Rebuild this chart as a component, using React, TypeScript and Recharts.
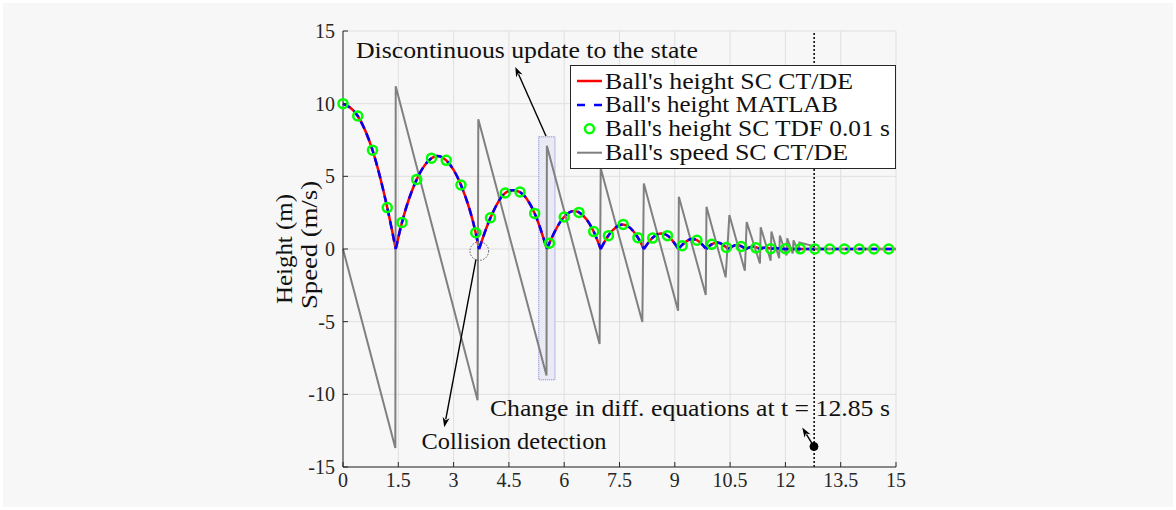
import React from 'react'
import {
    LineChart,
    Line,
    XAxis,
    YAxis,
    CartesianGrid,
    Legend,
    ReferenceLine,
    ReferenceDot,
    ReferenceArea
} from 'recharts'

const xTicks = [0, 1.5, 3, 4.5, 6, 7.5, 9, 10.5, 12, 13.5, 15]
const yTicks = [-15, -10, -5, 0, 5, 10, 15]

// Ball's height (SC CT/DE and MATLAB overlap). A null value closes one arc, the next arc starts at the bounce.
const heightTime = [
    0, 0.4, 0.8, 1.2, 1.43, 1.43,
    1.43, 1.6, 2.0, 2.4, 2.56, 2.8, 3.2, 3.6, 3.69, 3.69,
    3.69, 4.0, 4.4, 4.61, 4.8, 5.2, 5.53, 5.53,
    5.53, 5.6, 6.0, 6.26, 6.4, 6.8, 6.99, 6.99,
    6.99, 7.2, 7.58, 8.0, 8.16, 8.16,
    8.16, 8.4, 8.63, 8.8, 9.1, 9.1,
    9.1, 9.2, 9.47, 9.6, 9.85, 9.85,
    9.85, 10.0, 10.15, 10.45, 10.45,
    10.45, 10.69, 10.93, 10.93,
    10.93, 11.12, 11.31, 11.31,
    11.31, 11.47, 11.62, 11.62,
    11.62, 11.74, 11.86, 11.86,
    11.86, 15
]
const heightValue = [
    10, 9.15, 6.8, 2.85, 0, null,
    0, 1.83, 4.79, 6.25, 6.4, 6.1, 4.4, 1.1, 0, null,
    0, 2.15, 3.85, 4.05, 3.92, 2.45, 0, null,
    0, 0.42, 2.22, 2.62, 2.52, 1.2, 0, null,
    0, 0.93, 1.69, 0.78, 0, null,
    0, 0.78, 1.07, 0.93, 0, null,
    0, 0.28, 0.69, 0.61, 0, null,
    0, 0.32, 0.44, 0, null,
    0, 0.28, 0, null,
    0, 0.18, 0, null,
    0, 0.11, 0, null,
    0, 0.07, 0, null,
    0, 0
]

// Ball's height sampled by SC TDF (0.01 s), markers every 0.4 s
const tdfTime = [
    0, 0.4, 0.8, 1.2, 1.6, 2.0, 2.4, 2.8, 3.2, 3.6, 4.0, 4.4, 4.8, 5.2, 5.6, 6.0, 6.4, 6.8, 7.2,
    7.6, 8.0, 8.4, 8.8, 9.2, 9.6, 10.0, 10.4, 10.8, 11.2, 11.6, 12.0, 12.4, 12.8, 13.2, 13.6, 14.0, 14.4, 14.8
]
const tdfHeight = [
    10, 9.15, 6.8, 2.85, 1.83, 4.79, 6.25, 6.1, 4.4, 1.12, 2.15, 3.85, 3.92, 2.45, 0.4, 2.2, 2.52, 1.2, 0.92,
    1.69, 0.78, 0.75, 0.92, 0.22, 0.6, 0.32, 0.1, 0.17, 0.08, 0.02, 0.02, 0.01, 0, 0, 0, 0, 0, 0
]

// Ball's speed SC CT/DE (vertices of the saw-tooth)
const speedTime = [
    0, 1.42, 1.43, 3.65, 3.67, 5.52, 5.53, 6.96, 6.99, 8.12, 8.16, 9.09, 9.11, 9.84, 9.86,
    10.38, 10.48, 10.9, 10.95, 11.31, 11.33, 11.6, 11.62, 11.83, 11.85, 12.03, 12.05, 12.2, 12.22,
    12.36, 12.38, 12.76, 12.8, 15
]
const speedValue = [
    0, -13.7, 11.2, -10.4, 8.93, -8.7, 7.1, -6.53, 5.55, -5.02, 4.51, -4.24, 3.6, -3.16, 2.91,
    -1.95, 2.34, -1.5, 1.85, -1.0, 1.5, -0.8, 1.2, -0.64, 0.92, -0.45, 0.73, -0.3, 0.6,
    -0.25, 0.45, 0.2, 0, 0
]

const heightData = heightTime.map((t, i) => ({ t, h: heightValue[i] }))
const tdfData = tdfTime.map((t, i) => ({ t, h: tdfHeight[i] }))
const speedData = speedTime.map((t, i) => ({ t, v: speedValue[i] }))

const legendItems = [
    { name: "Ball's height SC CT/DE", kind: 'solid', color: '#ff0000', width: 248 },
    { name: "Ball's height MATLAB", kind: 'dashed', color: '#0000ff', width: 233 },
    { name: "Ball's height SC TDF 0.01 s", kind: 'circle', color: '#00ff00', width: 285 },
    { name: "Ball's speed SC CT/DE", kind: 'solid', color: '#808080', width: 243 }
]

const FONT = '"Liberation Serif", "DejaVu Serif", serif'
const AXIS_COLOR = '#262626'

const ArrowShape = (props: any) => {
    const { x1, y1, x2, y2 } = props
    const dx = x2 - x1
    const dy = y2 - y1
    const len = Math.hypot(dx, dy) || 1
    const ux = dx / len
    const uy = dy / len
    const head = 10
    const half = 3.5
    const bx = x2 - ux * head
    const by = y2 - uy * head
    return (
        <g>
            <line x1={x1} y1={y1} x2={bx + ux * 2} y2={by + uy * 2} stroke="#000" strokeWidth={1.4} />
            <polygon
                points={`${x2},${y2} ${bx - uy * half},${by + ux * half} ${bx + ux * 3},${by + uy * 3} ${bx + uy * half},${by - ux * half}`}
                fill="#000"
            />
        </g>
    )
}

const makeNote = (text: string, width: number) => (props: any) => (
    <text
        x={props.cx}
        y={props.cy}
        textAnchor="middle"
        fontFamily={FONT}
        fontSize={24}
        fill="#111"
        textLength={width}
        lengthAdjust="spacingAndGlyphs"
    >
        {text}
    </text>
)

const renderYLabel = (props: any) => {
    const vb = props?.viewBox ?? { x: 303, y: 31, width: 40, height: 436 }
    const cy = vb.y + vb.height / 2
    const xa = vb.x - 11
    const xb = vb.x + 14
    return (
        <g>
            <text x={xa} y={cy} transform={`rotate(-90 ${xa} ${cy})`} textAnchor="middle"
                fontFamily={FONT} fontSize={24} fill="#111"
                textLength={110} lengthAdjust="spacingAndGlyphs">Height (m)</text>
            <text x={xb} y={cy - 4} transform={`rotate(-90 ${xb} ${cy - 4})`} textAnchor="middle"
                fontFamily={FONT} fontSize={24} fill="#111"
                textLength={128} lengthAdjust="spacingAndGlyphs">Speed (m/s)</text>
        </g>
    )
}

const renderLegend = () => (
    <svg width={326} height={104} style={{ display: 'block' }}>
        <rect x={0.5} y={0.5} width={325} height={103} fill="#ffffff" stroke={AXIS_COLOR} strokeWidth={1} />
        {legendItems.map((item, i) => {
            const cy = 16 + i * 23.9
            return (
                <g key={item.name}>
                    {item.kind === 'circle' ? (
                        <circle cx={19.5} cy={cy} r={4.5} fill="none" stroke={item.color} strokeWidth={2.5} />
                    ) : (
                        <line
                            x1={7}
                            x2={32}
                            y1={cy}
                            y2={cy}
                            stroke={item.color}
                            strokeWidth={item.color === '#808080' ? 2 : 2.5}
                            strokeDasharray={item.kind === 'dashed' ? '8 9' : undefined}
                        />
                    )}
                    <text x={35} y={cy + 7.5} fontFamily={FONT} fontSize={24} fill="#111"
                        textLength={item.width} lengthAdjust="spacingAndGlyphs">
                        {item.name}
                    </text>
                </g>
            )
        })}
    </svg>
)

export default function App() {
    return (
        <div style={{ position: 'absolute', left: 0, top: 0, width: 1176, height: 510, background: '#ffffff' }}>
            <div style={{ position: 'absolute', left: 3, top: 3, width: 1170, height: 504, background: '#f7f7f7' }} />
            <div style={{ position: 'absolute', left: 0, top: 0 }}>
                <LineChart
                    width={1176}
                    height={510}
                    margin={{ top: 31, right: 280, bottom: 13, left: 303 }}
                >
                    <CartesianGrid stroke="#dfdfdf" strokeWidth={1} />
                    <XAxis
                        type="number"
                        dataKey="t"
                        domain={[0, 15]}
                        ticks={xTicks}
                        interval={0}
                        height={30}
                        tickSize={-5}
                        tickMargin={11}
                        stroke={AXIS_COLOR}
                        tick={{ fill: AXIS_COLOR, fontFamily: FONT, fontSize: 20 }}
                    />
                    <YAxis
                        type="number"
                        domain={[-15, 15]}
                        ticks={yTicks}
                        interval={0}
                        width={40}
                        tickSize={-5}
                        tickMargin={13}
                        stroke={AXIS_COLOR}
                        tick={{ fill: AXIS_COLOR, fontFamily: FONT, fontSize: 20 }}
                        label={{ content: renderYLabel }}
                    />
                    <Legend
                        layout="horizontal"
                        verticalAlign="middle"
                        align="center"
                        width={326}
                        height={104}
                        wrapperStyle={{ left: 570, top: 65, width: 326, height: 104 }}
                        content={renderLegend}
                    />

                    <ReferenceArea
                        x1={5.31}
                        x2={5.75}
                        y1={-9.0}
                        y2={7.72}
                        fill="#eaeaf4"
                        fillOpacity={1}
                        stroke="#7b7bd6"
                        strokeWidth={1}
                        strokeDasharray="1 1"
                    />

                    {/* Red solid under the gray speed, blue dashes on top */}
                    <Line
                        data={heightData}
                        dataKey="h"
                        type="monotone"
                        stroke="#ff0000"
                        strokeWidth={2.5}
                        dot={false}
                        connectNulls={false}
                        isAnimationActive={false}
                        name="Ball's height SC CT/DE"
                    />
                    <Line
                        data={speedData}
                        dataKey="v"
                        type="linear"
                        stroke="#808080"
                        strokeWidth={2}
                        dot={false}
                        isAnimationActive={false}
                        name="Ball's speed SC CT/DE"
                    />
                    <Line
                        data={heightData}
                        dataKey="h"
                        type="monotone"
                        stroke="#0000ff"
                        strokeWidth={2.5}
                        strokeDasharray="8 5"
                        dot={false}
                        connectNulls={false}
                        isAnimationActive={false}
                        name="Ball's height MATLAB"
                    />
                    <Line
                        data={tdfData}
                        dataKey="h"
                        stroke="none"
                        dot={{ r: 4.5, fill: 'none', stroke: '#00ff00', strokeWidth: 2.5 }}
                        isAnimationActive={false}
                        name="Ball's height SC TDF 0.01 s"
                    />

                    <ReferenceLine x={12.78} stroke="#000" strokeWidth={1.5} strokeDasharray="2 2" />
                    <ReferenceDot x={3.697} y={-0.14} r={9.3} fill="none" stroke="#555" strokeWidth={1} strokeDasharray="1.5 1.5" />
                    <ReferenceDot x={12.775} y={-13.59} r={4} fill="#000" stroke="#000" />

                    <ReferenceLine segment={[{ x: 5.506, y: 7.77 }, { x: 4.674, y: 12.53 }]} shape={ArrowShape} />
                    <ReferenceLine segment={[{ x: 3.607, y: -0.71 }, { x: 2.747, y: -12.27 }]} shape={ArrowShape} />
                    <ReferenceLine segment={[{ x: 12.775, y: -13.59 }, { x: 12.457, y: -12.28 }]} shape={ArrowShape} />

                    <ReferenceDot x={4.99} y={13.16} r={0} shape={makeNote('Discontinuous update to the state', 342)} />
                    <ReferenceDot x={4.64} y={-13.75} r={0} shape={makeNote('Collision detection', 185)} />
                    <ReferenceDot x={9.41} y={-11.48} r={0} shape={makeNote('Change in diff. equations at t = 12.85 s', 400)} />
                </LineChart>
            </div>
        </div>
    )
}
